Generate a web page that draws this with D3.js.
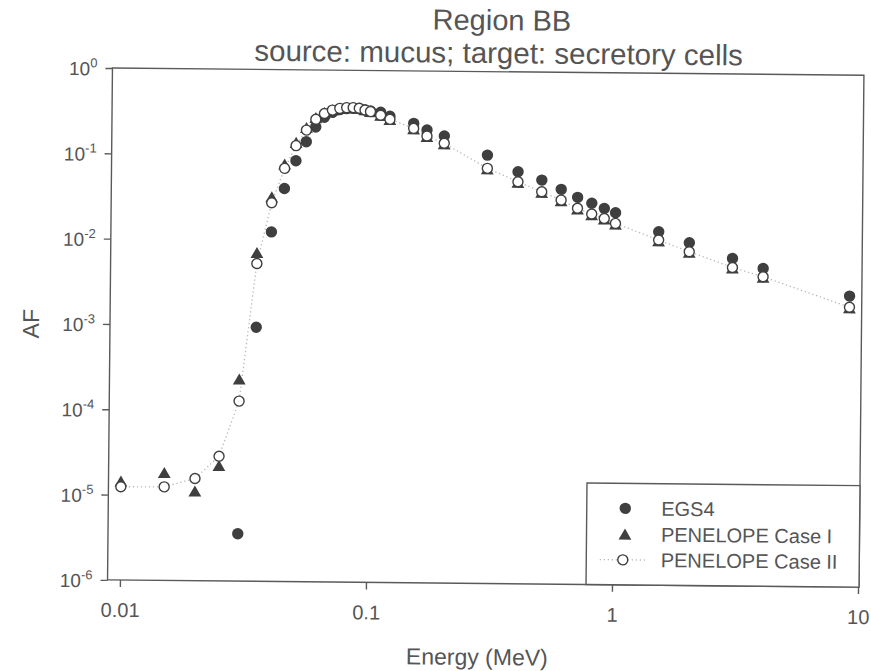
<!DOCTYPE html>
<html>
<head>
<meta charset="utf-8">
<script src="https://cdn.jsdelivr.net/npm/d3@7"></script>
<style>
  body { margin: 0; background: #fff; }
  svg { display: block; }
  text { font-family: "Liberation Sans", Arial, sans-serif; fill: #555; }
</style>
</head>
<body>
<svg id="chart" width="871" height="671"></svg>
<script>
// Photon energy grid (MeV)
const energies = [0.01, 0.015, 0.02, 0.025, 0.03, 0.035, 0.04, 0.045, 0.05, 0.055,
  0.06, 0.065, 0.07, 0.075, 0.08, 0.085, 0.09, 0.095, 0.1, 0.11, 0.12, 0.15, 0.17,
  0.2, 0.3, 0.4, 0.5, 0.6, 0.7, 0.8, 0.9, 1, 1.5, 2, 3, 4, 9];

// Absorbed fractions, EGS4 (no values below 30 keV)
const egs4 = [null, null, null, null, 3.6e-6, 9.5e-4, 0.0125, 0.0405, 0.086, 0.144,
  0.215, 0.28, 0.32, 0.345, 0.355, 0.358, 0.355, 0.345, 0.335, 0.325, 0.292, 0.243, 0.204,
  0.174, 0.105, 0.0676, 0.0543, 0.0425, 0.0344, 0.0294, 0.0257, 0.0229, 0.0139, 0.0104,
  0.00689, 0.0053, 0.00257];

// Absorbed fractions, PENELOPE Case I
const penelope1 = [1.44e-5, 1.83e-5, 1.12e-5, 2.24e-5, 2.33e-4, 7.1e-3, 0.032, 0.078, 0.14, 0.21,
  0.275, 0.315, 0.34, 0.355, 0.362, 0.364, 0.358, 0.343, 0.328, 0.297, 0.266, 0.208, 0.17,
  0.14, 0.072, 0.0505, 0.0388, 0.0311, 0.025, 0.0215, 0.0192, 0.0168, 0.0108, 0.008,
  0.0053, 0.00415, 0.00186];

// Absorbed fractions, PENELOPE Case II
const penelope2 = [1.24e-5, 1.25e-5, 1.58e-5, 2.9e-5, 1.29e-4, 5.3e-3, 0.0275, 0.0697, 0.129, 0.197,
  0.264, 0.31, 0.34, 0.357, 0.365, 0.366, 0.36, 0.344, 0.33, 0.30, 0.269, 0.212, 0.173,
  0.143, 0.0735, 0.0516, 0.0396, 0.0318, 0.0256, 0.022, 0.0196, 0.0172, 0.0111, 0.00817,
  0.0054, 0.00424, 0.0019];

const xTicks = [0.01, 0.1, 1, 10];
const xTickLabels = ["0.01", "0.1", "1", "10"];
const yTicks = [1, 1e-1, 1e-2, 1e-3, 1e-4, 1e-5, 1e-6];
const yTickExponents = ["0", "-1", "-2", "-3", "-4", "-5", "-6"];
const seriesNames = ["EGS4", "PENELOPE Case I", "PENELOPE Case II"];

const svg = d3.select("#chart");
const root = svg.append("g").attr("transform", "rotate(0.55 484 326)");

const plotL = 110, plotR = 861.5, plotT = 71.6, plotB = 583.5;
const x = d3.scaleLog().domain([Math.pow(10, -2.0504), Math.pow(10, 1.004)]).range([plotL, plotR]);
const y = d3.scaleLog().domain([1e-6, 1]).range([plotB, plotT]);

const axisColor = "#5a5a5a";
const markColor = "#3f3f3f";

// frame
root.append("rect")
  .attr("x", plotL).attr("y", plotT)
  .attr("width", plotR - plotL).attr("height", plotB - plotT)
  .attr("fill", "none").attr("stroke", axisColor).attr("stroke-width", 1.4);

// y axis
const yAxis = root.append("g")
  .attr("transform", `translate(${plotL},0)`)
  .call(d3.axisLeft(y).tickValues(yTicks).tickSize(7).tickSizeOuter(0).tickPadding(5).tickFormat(""));
yAxis.select(".domain").remove();
yAxis.selectAll(".tick line").attr("stroke", axisColor).attr("stroke-width", 1.4);
yAxis.selectAll(".tick").each(function (d, i) {
  const t = d3.select(this).append("text")
    .attr("x", -15).attr("y", 7).attr("text-anchor", "end")
    .style("font-size", "19px");
  t.append("tspan").text("10");
  t.append("tspan").attr("dy", -8).style("font-size", "13px").text(yTickExponents[i]);
});

// x axis
const xAxis = root.append("g")
  .attr("transform", `translate(0,${plotB})`)
  .call(d3.axisBottom(x).tickValues(xTicks).tickSize(7).tickSizeOuter(0).tickPadding(0).tickFormat(""));
xAxis.select(".domain").remove();
xAxis.selectAll(".tick line").attr("stroke", axisColor).attr("stroke-width", 1.4);
xAxis.selectAll(".tick").append("text")
  .attr("y", 37).attr("text-anchor", "middle")
  .style("font-size", "20px")
  .text((d, i) => xTickLabels[i]);

// axis titles
root.append("text").attr("x", 480).attr("y", 665).attr("text-anchor", "middle")
  .style("font-size", "23px").text("Energy (MeV)");
root.append("text").attr("transform", "translate(39,328) rotate(-90)").attr("text-anchor", "middle")
  .style("font-size", "23px").text("AF");

// titles
root.append("text").attr("x", 499).attr("y", 30).attr("text-anchor", "middle")
  .style("font-size", "29px").text("Region BB");
root.append("text").attr("x", 496).attr("y", 63).attr("text-anchor", "middle")
  .style("font-size", "29.5px").text("source: mucus; target: secretory cells");

const rows = (vals) => energies.map((e, i) => ({ e, v: vals[i] })).filter(d => d.v != null);

// dotted connector through PENELOPE Case II
const line = d3.line().x(d => x(d.e)).y(d => y(d.v));
const dotStyle = (sel) => sel.attr("fill", "none").attr("stroke", "#b8b8b8")
  .attr("stroke-width", 1.3).attr("stroke-dasharray", "1.3,2.7");
root.append("path").datum(rows(penelope2)).attr("d", line).call(dotStyle);

const triPath = "M0,-5.8L6.4,5.3L-6.4,5.3Z";

// EGS4 filled circles
root.append("g").selectAll("circle").data(rows(egs4)).join("circle")
  .attr("cx", d => x(d.e)).attr("cy", d => y(d.v)).attr("r", 5.7).attr("fill", markColor);

// PENELOPE Case I filled triangles
root.append("g").selectAll("path").data(rows(penelope1)).join("path")
  .attr("d", triPath).attr("transform", d => `translate(${x(d.e)},${y(d.v)})`).attr("fill", markColor);

// PENELOPE Case II open circles
root.append("g").selectAll("circle").data(rows(penelope2)).join("circle")
  .attr("cx", d => x(d.e)).attr("cy", d => y(d.v)).attr("r", 5)
  .attr("fill", "#fff").attr("stroke", markColor).attr("stroke-width", 1.4);

// legend
const lg = root.append("g");
lg.append("rect").attr("x", 588.5).attr("y", 482).attr("width", plotR - 588.5).attr("height", plotB - 482)
  .attr("fill", "#fff").attr("stroke", axisColor).attr("stroke-width", 1.4);
const rowY = [507, 533, 558.5];
lg.append("circle").attr("cx", 627).attr("cy", rowY[0]).attr("r", 5.7).attr("fill", markColor);
lg.append("path").attr("d", triPath).attr("transform", `translate(627,${rowY[1]})`).attr("fill", markColor);
lg.append("path").attr("d", `M602,${rowY[2]}H648`).call(dotStyle);
lg.append("circle").attr("cx", 625).attr("cy", rowY[2]).attr("r", 5)
  .attr("fill", "#fff").attr("stroke", markColor).attr("stroke-width", 1.4);
lg.selectAll("text.item").data(seriesNames).join("text").attr("class", "item")
  .attr("x", 663).attr("y", (d, i) => rowY[i] + 7)
  .style("font-size", "20px").text(d => d);
</script>
</body>
</html>
